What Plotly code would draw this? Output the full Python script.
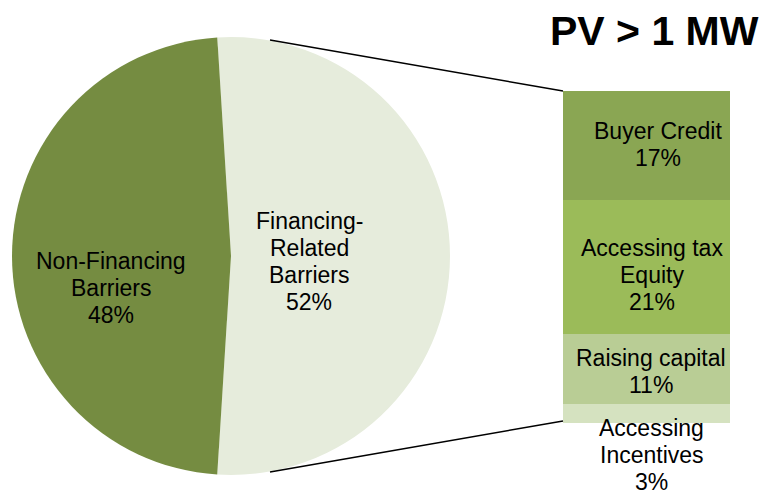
import plotly.graph_objects as go

W, H = 764, 493

pie_labels = ["Financing-Related Barriers", "Non-Financing Barriers"]
pie_values = [52, 48]
pie_colors = ["#e6ecdc", "#758c41"]

bar_labels = ["Buyer Credit", "Accessing tax<br>Equity", "Raising capital", "Accessing<br>Incentives"]
bar_values = [17, 21, 11, 3]
bar_colors = ["#8aa653", "#9bbb59", "#b9cd95", "#d5e2c0"]

FONT = "Liberation Sans, Arial, sans-serif"
FS = 23
LINE = 27.0  # line spacing in px

def px_x(x):
    return x / W

def px_y(y):
    return 1 - y / H

fig = go.Figure()

# pie
rot = -(pie_values[0] - 50) / 100 * 360 / 2
fig.add_trace(go.Pie(
    labels=pie_labels, values=pie_values, sort=False, direction="clockwise",
    rotation=rot, marker=dict(colors=pie_colors, line=dict(width=0)),
    textinfo="none", hoverinfo="label+percent", showlegend=False,
    domain=dict(x=[px_x(10), px_x(452)], y=[px_y(475), px_y(37)]),
))

# stacked bar
total = sum(bar_values)
for lab, v, c in zip(bar_labels, bar_values, bar_colors):
    fig.add_trace(go.Bar(
        x=["Financing"], y=[v], name=lab.replace("<br>", " "),
        marker=dict(color=c, line=dict(width=0)),
        showlegend=False, hoverinfo="name+y",
    ))

fig.update_layout(
    width=W, height=H, margin=dict(l=0, r=0, t=0, b=0),
    paper_bgcolor="white", plot_bgcolor="white",
    barmode="stack", bargap=0,
    xaxis=dict(domain=[px_x(563), px_x(730)], visible=False, fixedrange=True),
    yaxis=dict(domain=[px_y(423), px_y(91)], range=[total, 0], visible=False, fixedrange=True),
    font=dict(family=FONT, color="black", size=FS),
)

def multiline(lines, **kw):
    n = len(lines)
    base_shift = kw.pop("yshift", 0)
    for i, ln in enumerate(lines):
        off = (i - (n - 1) / 2) * LINE
        fig.add_annotation(text=ln, showarrow=False, xanchor="center", yanchor="middle",
                           yshift=base_shift - off, font=dict(size=FS, family=FONT), **kw)

# bar labels (centered within segments, last one below bar)
cum = 0
block_shift = [1, -8.4, -2.8]
xshifts = [11, 5, 4]
for i, (lab, v) in enumerate(zip(bar_labels, bar_values)):
    mid = cum + v / 2
    lines = lab.split("<br>") + [f"{v}%"]
    if i == len(bar_values) - 1:
        n = len(lines)
        multiline(lines, x="Financing", y=total, xref="x", yref="y",
                  yshift=-(5 + (n - 1) / 2 * LINE), xshift=5)
    else:
        multiline(lines, x="Financing", y=mid, xref="x", yref="y",
                  yshift=block_shift[i], xshift=xshifts[i])
    cum += v

# pie labels
multiline(["Non-Financing", "Barriers", f"{pie_values[1]}%"],
          x=px_x(111), y=px_y(287.5), xref="paper", yref="paper")
multiline(["Financing-", "Related", "Barriers", f"{pie_values[0]}%"],
          x=px_x(309), y=px_y(261), xref="paper", yref="paper")

# title
fig.add_annotation(x=px_x(761), y=px_y(31), xref="paper", yref="paper",
                   text="<b>PV > 1 MW</b>", showarrow=False, xanchor="right",
                   yanchor="middle", font=dict(size=41, family=FONT))

# connector lines
fig.add_shape(type="line", xref="paper", yref="paper",
              x0=px_x(270), y0=px_y(40), x1=px_x(563), y1=px_y(91),
              line=dict(color="black", width=1.5))
fig.add_shape(type="line", xref="paper", yref="paper",
              x0=px_x(270), y0=px_y(472), x1=px_x(563), y1=px_y(421),
              line=dict(color="black", width=1.5))

fig.write_html("out.html", config={"displayModeBar": False},
               post_script="document.body.style.margin='0';document.body.style.overflow='hidden';")
